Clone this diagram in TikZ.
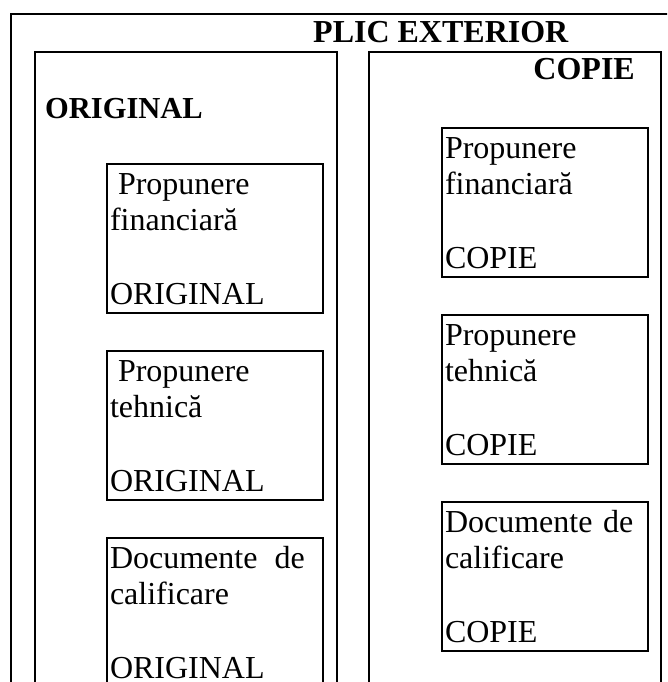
\documentclass[tikz,border=0pt]{standalone}
\usepackage{fontspec}
\setmainfont{Liberation Serif}
\newcommand{\fsz}{\fontsize{32}{36.7}\selectfont}
\newcommand{\lastdp}{\rule[-9pt]{0pt}{9pt}}
\tikzset{
  frame/.style={draw, line width=2pt},
  doc/.style={draw, line width=2pt, anchor=north west, inner xsep=3pt, inner ysep=0pt,
    align=left, font=\fsz},
  head/.style={inner sep=0pt, font=\fsz\bfseries},
}

\begin{document}
\begin{tikzpicture}[x=1pt,y=-1pt]
    \clip (0,0) rectangle (667,682);
    \draw[frame] (11,14) rectangle (720,720);
    \draw[frame] (35,52) rectangle (337,720);
    \draw[frame] (369,52) rectangle (661,720);
    \node[head, anchor=base west] (plic) at (313,43) {PLIC EXTERIOR};
    \node[head, anchor=base west, font=\fontsize{30.5}{35}\selectfont\bfseries] (orig) at (45,118) {ORIGINAL};
    \node[head, anchor=base east] (copie) at (635,80) {COPIE};
    \node[doc, text width=210pt] (ofin) at (106,163)
      {\rule{0pt}{30pt}\hspace*{0.25em}Propunere\\financiară\\[36.7pt]ORIGINAL\lastdp};
    \node[doc, text width=210pt] (oteh) at (106,350)
      {\rule{0pt}{30pt}\hspace*{0.25em}Propunere\\tehnică\\[36.7pt]ORIGINAL\lastdp};
    \node[doc, text width=210pt] (ocal) at (106,537)
      {\rule{0pt}{30pt}Documente\hspace{17pt}de\\calificare\\[36.7pt]ORIGINAL\lastdp};
    \node[doc, text width=200pt] (cfin) at (441,127)
      {\rule{0pt}{30pt}Propunere\\financiară\\[36.7pt]COPIE\lastdp};
    \node[doc, text width=200pt] (cteh) at (441,314)
      {\rule{0pt}{30pt}Propunere\\tehnică\\[36.7pt]COPIE\lastdp};
    \node[doc, text width=200pt] (ccal) at (441,501)
      {\rule{0pt}{30pt}Documente de\\calificare\\[36.7pt]COPIE\lastdp};
  \end{tikzpicture}
\end{document}
